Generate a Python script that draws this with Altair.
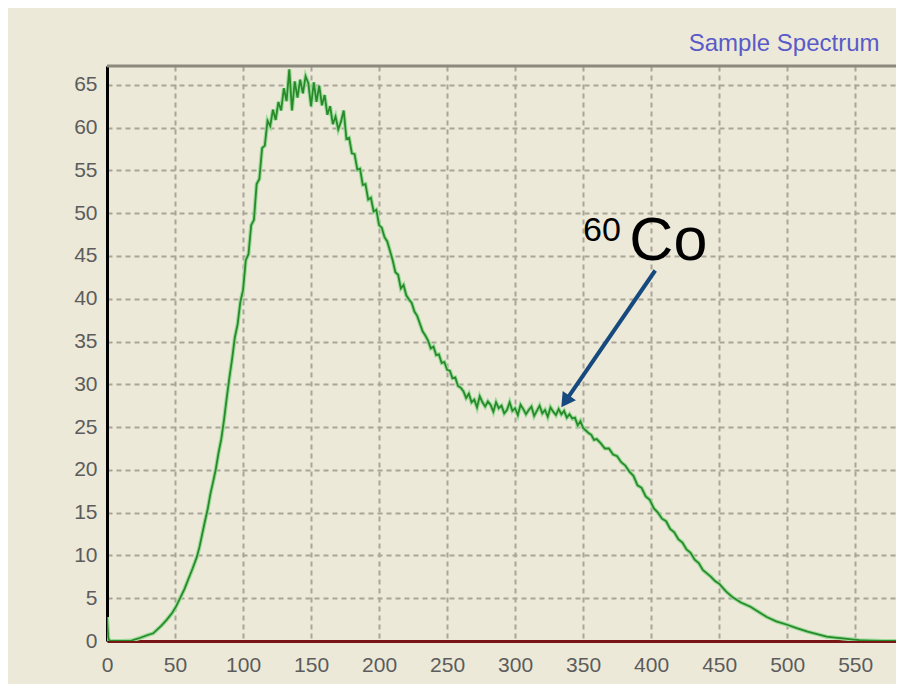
import altair as alt
import pandas as pd

# ---- data ----
channel = [
    0, 1, 2, 10, 18, 24, 30, 34, 40, 44, 48, 51, 54, 57, 60, 63, 66, 68, 70, 72,
    74, 76, 78, 80, 82, 84, 86, 88, 90, 92, 94,
    96, 98, 100, 102, 104, 106, 108, 110, 112, 114, 116, 118, 120, 122, 124, 126,
    128, 130, 132, 134, 136, 138, 140, 142, 144, 146, 148, 150, 152, 154, 156, 158,
    160, 162, 164, 166, 168, 170, 172, 174, 176, 178, 180, 182, 184, 186, 188, 190,
    192, 194, 196, 198,
    200, 202, 204, 206, 208, 210, 212, 214, 216, 218, 220, 222,
    224, 226, 228, 230, 232, 234, 236, 238, 240, 242, 244, 246, 248, 250, 252, 254,
    256, 258, 260, 262,
    264, 266, 268, 270, 272, 274, 276, 278, 280, 282, 284, 286,
    288, 290, 292, 294, 296, 298, 300, 302, 304, 306, 308, 310, 312, 314, 316, 318,
    320, 322, 324, 326, 328, 330, 332, 334, 336, 338, 340, 342, 344, 346, 348, 350,
    352, 354, 356, 358, 360,
    363, 366, 369, 372, 375, 378, 381, 384, 387, 390, 393, 396, 399, 402, 405, 408,
    411, 414, 417, 420, 423, 426, 429, 432, 435, 438, 441, 444, 447, 450, 455, 460,
    466, 473, 480, 485, 492, 500, 507, 515, 522, 529, 535, 541, 547, 553, 560, 570, 580,
]
counts = [
    2.8, 0.3, 0.0, 0.0, 0.05, 0.35, 0.7, 0.9, 1.8, 2.5, 3.3, 4.1, 5.1, 6.1, 7.3, 8.5, 9.8, 11.0, 12.5, 14.0,
    15.4, 17.2, 18.6, 20.1, 22.0, 23.6, 25.8, 28.4, 30.8, 33.0, 35.5,
    37.0, 39.6, 41.0, 44.5, 45.2, 48.6, 49.2, 53.4, 54.0, 57.6, 57.9, 60.8, 60.2, 62.1, 60.9, 63.0,
    62.0, 64.6, 63.1, 66.8, 62.0, 65.4, 63.5, 65.6, 64.0, 66.0, 65.2, 62.5, 65.3, 63.0, 64.9, 62.6,
    63.8, 61.5, 62.5, 60.4, 61.3, 59.8, 60.7, 62.0, 58.7, 58.8, 57.0, 56.9, 55.1, 55.2, 53.3, 53.4,
    51.6, 51.8, 50.2, 50.4,
    48.6, 48.3, 47.2, 46.7, 45.6, 44.5, 43.1, 42.8, 41.2, 41.6, 40.4, 39.9,
    39.5, 38.5, 38.0, 37.1, 36.2, 35.7, 35.1, 34.2, 34.4, 33.4, 33.5, 32.5, 32.6, 31.7, 31.6, 30.7,
    30.8, 29.8, 29.6, 29.2,
    28.4, 28.9, 27.9, 28.2, 27.3, 28.6, 27.9, 27.4, 28.0, 27.6, 26.8, 27.9,
    27.2, 27.5, 26.6, 27.0, 27.9, 26.9, 27.2, 26.4, 27.6, 27.1, 26.5, 27.0, 27.4, 26.3, 26.9, 27.5,
    26.6, 27.0, 26.2, 27.3, 26.8, 26.4, 27.1, 26.5, 26.9, 26.1, 26.5, 26.0, 26.1, 25.2, 25.7, 24.9,
    24.6, 24.3, 24.1, 23.5, 23.6,
    23.1, 22.5, 22.5, 21.8, 21.6, 20.9, 20.5, 19.8, 19.3, 18.2, 17.9, 16.9, 16.5, 15.5, 15.0, 14.3,
    14.0, 13.1, 12.7, 11.9, 11.5, 10.7, 10.3, 9.5, 9.1, 8.3, 7.9, 7.5, 7.0, 6.7, 5.8, 5.1,
    4.5, 4.0, 3.3, 2.8, 2.3, 1.9, 1.5, 1.1, 0.8, 0.5, 0.4, 0.3, 0.2, 0.1, 0.05, 0.0, 0.0,
]

x_ticks = [0, 50, 100, 150, 200, 250, 300, 350, 400, 450, 500, 550]
y_ticks = [0, 5, 10, 15, 20, 25, 30, 35, 40, 45, 50, 55, 60, 65]
x_domain = [0, 580]
y_domain = [0, 67.2]

title_text = "Sample Spectrum"
iso_mass = "60"
iso_symbol = "Co"
mass_pos = [350, 46.8]      # channel, counts (baseline-left of "60")
symbol_pos = [384.0, 44.5]  # channel, counts (baseline-left of "Co")
arrow_start = [403, 43.3]
arrow_head = [336.9, 28.0]

FONT = "Liberation Sans"

spec_df = pd.DataFrame({"channel": channel, "counts": counts})
arrow_df = pd.DataFrame({"x": [arrow_start[0]], "y": [arrow_start[1]],
                         "x2": [arrow_head[0]], "y2": [arrow_head[1]]})
head_df = pd.DataFrame({"x": [arrow_head[0]], "y": [arrow_head[1]]})
mass_df = pd.DataFrame({"x": [mass_pos[0]], "y": [mass_pos[1]], "t": [iso_mass]})
sym_df = pd.DataFrame({"x": [symbol_pos[0]], "y": [symbol_pos[1]], "t": [iso_symbol]})

xs = alt.Scale(domain=x_domain, nice=False, zero=False)
ys = alt.Scale(domain=y_domain, nice=False, zero=False)

x_axis = alt.Axis(values=x_ticks, title=None, grid=True, tickSize=0, ticks=False,
                  labelPadding=13, labelFontSize=21, labelFont=FONT, labelColor="#5C5C5C",
                  domainColor="#7A1616", domainWidth=3, labelFlush=False)
y_axis = alt.Axis(values=y_ticks, title=None, grid=True, tickSize=0, ticks=False,
                  labelPadding=10, labelFontSize=21, labelFont=FONT, labelColor="#5C5C5C",
                  domainColor="#000000", domainWidth=3)

base = alt.Chart(spec_df)
halo = base.mark_line(color="#9ADB9A", strokeWidth=4, clip=True).encode(
    x=alt.X("channel:Q", scale=xs, axis=x_axis),
    y=alt.Y("counts:Q", scale=ys, axis=y_axis),
)
core = base.mark_line(color="#2A8A2A", strokeWidth=1.8, clip=True).encode(
    x=alt.X("channel:Q", scale=xs),
    y=alt.Y("counts:Q", scale=ys),
)

top_border = alt.Chart(pd.DataFrame({"y": [y_domain[1]]})).mark_rule(
    color="#8C8A7E", strokeWidth=3).encode(y=alt.Y("y:Q", scale=ys))

arrow = alt.Chart(arrow_df).mark_rule(color="#164A7E", strokeWidth=4).encode(
    x=alt.X("x:Q", scale=xs), y=alt.Y("y:Q", scale=ys),
    x2="x2:Q", y2="y2:Q")
head = alt.Chart(head_df).mark_point(shape="triangle-up", filled=True, color="#164A7E",
                                     size=260, angle=215, opacity=1).encode(
    x=alt.X("x:Q", scale=xs), y=alt.Y("y:Q", scale=ys))

mass_txt = alt.Chart(mass_df).mark_text(align="left", baseline="alphabetic", font=FONT,
                                        fontSize=34, color="#000000").encode(
    x=alt.X("x:Q", scale=xs), y=alt.Y("y:Q", scale=ys), text="t:N")
sym_txt = alt.Chart(sym_df).mark_text(align="left", baseline="alphabetic", font=FONT,
                                      fontSize=61, color="#000000").encode(
    x=alt.X("x:Q", scale=xs), y=alt.Y("y:Q", scale=ys), text="t:N")

chart = alt.layer(halo, core, top_border, arrow, head, mass_txt, sym_txt).properties(
    width=789, height=575,
    autosize=alt.AutoSizeParams(type="none"),
    padding={"left": 99, "top": 58, "right": 0, "bottom": 43},
    title=alt.TitleParams(title_text, anchor="end", font=FONT, fontSize=24,
                          fontWeight="normal", color="#5A5AC8", offset=9, dx=-18),
).configure(background="#ECE9D8").configure_view(strokeWidth=0, fill="#ECE9D8").configure_axis(
    gridColor="#A9A597", gridWidth=2, gridDash=[5, 4], gridOpacity=1
)

chart.save("out.html", embed_options={"renderer": "svg", "actions": False})
